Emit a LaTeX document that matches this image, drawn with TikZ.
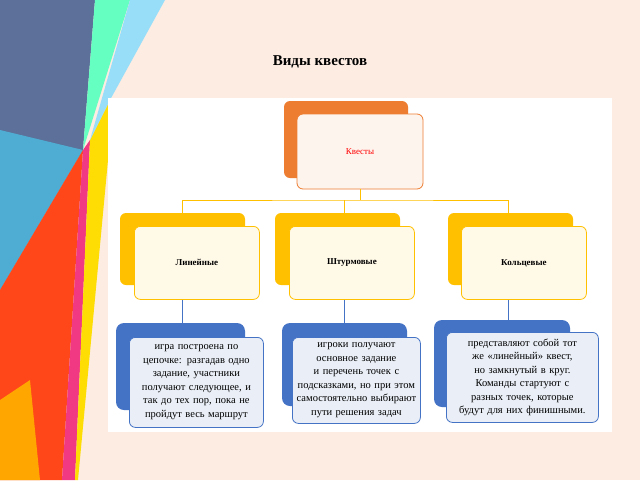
\documentclass[tikz,border=0pt]{standalone}
\usepackage{fontspec}
\setmainfont{Liberation Serif}
\usetikzlibrary{positioning}
\definecolor{qorange}{RGB}{237,125,49}
\definecolor{qyellow}{RGB}{255,192,0}
\definecolor{qblue}{RGB}{68,114,196}
\definecolor{qbg}{RGB}{252,236,226}
\definecolor{qcream}{RGB}{255,249,232}
\definecolor{qpale}{RGB}{234,239,247}
\tikzset{
  front/.style={draw, rounded corners=6pt, line width=0.8pt, inner sep=0pt, align=center},
  word/.style={font=\fontsize{9}{11}\selectfont\bfseries},
  para/.style={font=\fontsize{10.5}{13.5}\selectfont, text width=124pt, align=center}
}
\begin{document}
\begin{tikzpicture}[x=1pt,y=-1pt]
        \useasboundingbox (0,0) rectangle (640,480);
        \fill[qbg] (0,0) rectangle (640,480);

        %=== Stripes ===
        \fill[teal!60!violet!80] (0,0) -- (95,0) -- (83,150) -- (0,290) -- cycle;
        \fill[cyan!60!teal!80] (0,130) -- (83,150) -- (0,290) -- cycle;
        \fill[red!60!orange!90] (0,290) -- (83,150) -- (62,480) -- (0,480) -- cycle;
        \fill[orange!70!yellow] (0,400) -- (30,380) -- (40,480) -- (0,480) -- cycle;
        \fill[magenta!70!red!80] (62,480) -- (83,150) -- (90,140) -- (75,480) -- cycle;
        \fill[yellow!80!orange] (75,480) -- (90,140) -- (110,100) -- (108,160) -- (78,480) -- cycle;
        \fill[green!40!cyan!60] (95,0) -- (130,0) -- (83,150) -- cycle;
        \fill[cyan!40] (130,0) -- (165,0) -- (110,100) -- (90,140) -- cycle;

        %=== Panel ===
        \fill[white] (108,98) rectangle (612,432);
        \node[font=\fontsize{15}{17}\selectfont\bfseries] (title) at (320,62) {Виды квестов};

        %=== Level 1 ===
        \fill[qorange, rounded corners=6pt] (284,101) rectangle (408,178);
        \node[front, draw=qorange, fill=qbg!60, minimum width=126pt, minimum height=75pt,
              text=red, font=\fontsize{9}{11}\selectfont] (quests) at (360,151.5) {Квесты};

        %=== Level 2 ===
        \foreach \bx/\fx/\name/\txt in {120/134/lin/Линейные, 275/289/storm/Штурмовые, 448/461/ring/Кольцевые}{
            \fill[qyellow, rounded corners=6pt] (\bx,213) rectangle ++(125,72);
            \node[front, draw=qyellow, fill=qcream, minimum width=125pt, minimum height=73pt, word,
                  anchor=north west] (\name) at (\fx,226) {\txt};
        }

        \coordinate (split) at (360,200);
        \draw[qyellow] (quests.south) -- (split);
        \draw[qyellow] (lin.north -| 182,0) |- (split) -| (ring.north -| 508,0);
        \draw[qyellow] (split -| 344,0) -- (storm.north -| 344,0);

        %=== Level 3 ===
        \fill[qblue, rounded corners=8pt] (116,323) rectangle (245,410);
        \fill[qblue, rounded corners=8pt] (282,323) rectangle (407,406);
        \fill[qblue, rounded corners=8pt] (434,320) rectangle (570,407);
        \node[front, draw=qblue, fill=qpale, minimum width=134pt, minimum height=90pt, para,
              anchor=north west] (linD) at (129,337)
              {игра построена по цепочке: разгадав одно задание, участники получают следующее, и так до тех пор, пока не пройдут весь маршрут};
        \node[front, draw=qblue, fill=qpale, minimum width=128pt, minimum height=86pt, para, text width=122pt,
              anchor=north west] (stormD) at (292,337)
              {игроки получают основное задание и перечень точек с подсказками, но при этом самостоятельно выбирают пути решения задач};
        \node[front, draw=qblue, fill=qpale, minimum width=152pt, minimum height=90pt, para, text width=140pt,
              anchor=north west] (ringD) at (446,332)
              {представляют собой тот же «линейный» квест, но замкнутый в круг. Команды стартуют с разных точек, которые будут для них финишными.};

        \draw[qblue] (lin.south -| 182,0) -- (182,323);
        \draw[qblue] (storm.south -| 344,0) -- (344,323);
        \draw[qblue] (ring.south -| 508,0) -- (508,320);
\end{tikzpicture}
\end{document}
